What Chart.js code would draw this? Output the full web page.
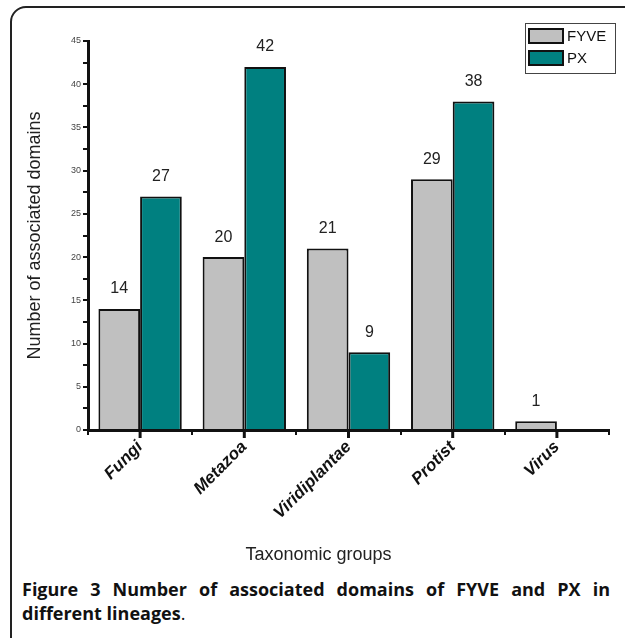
<!DOCTYPE html>
<html>
<head>
<meta charset="utf-8">
<script src="https://cdn.jsdelivr.net/npm/chart.js@4/dist/chart.umd.min.js"></script>
<style>
  html, body { margin: 0; padding: 0; background: #fff; }
  body { width: 625px; height: 638px; position: relative; overflow: hidden; }
  .frame {
    position: absolute; left: 10px; top: 6px; width: 640px; height: 660px;
    border: 2px solid #222; border-radius: 16px; box-sizing: border-box;
  }
  .wrap { position: absolute; left: 0; top: 0; width: 625px; height: 575px; }
  .caption {
    position: absolute; left: 22px; top: 577px; width: 588px;
    font-family: "Open Sans", "Noto Sans", sans-serif; font-size: 18px;
    line-height: 24px; color: #111; text-align: justify; text-align-last: left;
  }
  .caption b { font-weight: 700; }
</style>
</head>
<body>
<div class="frame"></div>
<div class="wrap"><canvas id="chart"></canvas></div>
<div class="caption"><b>Figure 3 Number of associated domains of FYVE and PX in different lineages</b>.</div>
<script>
// ---- data ----
const groups   = ["Fungi", "Metazoa", "Viridiplantae", "Protist", "Virus"];
const fyveVals = [14, 20, 21, 29, 1];
const pxVals   = [27, 42, 9, 38, 0];
const yMax = 45;
const xTitle = "Taxonomic groups";

const SANS = "'Liberation Sans', Arial, sans-serif";

// value labels above each bar
const valueLabels = {
  id: "valueLabels",
  afterDatasetsDraw(chart){
    const ctx = chart.ctx;
    ctx.save();
    ctx.font = "16px " + SANS;
    ctx.fillStyle = "#222";
    ctx.textAlign = "center";
    ctx.textBaseline = "bottom";
    chart.data.datasets.forEach((ds, di) => {
      chart.getDatasetMeta(di).data.forEach((el, i) => {
        const v = ds.data[i];
        if (!v) return;
        ctx.fillText(String(v), el.x, el.y - 12);
      });
    });
    ctx.restore();
  }
};

// long ticks at category centres + x title (sits left of centre in the original)
const centerTicks = {
  id: "centerTicks",
  afterDraw(chart){
    const x = chart.scales.x, ctx = chart.ctx;
    const yb = chart.chartArea.bottom;
    ctx.save();
    ctx.strokeStyle = "#111";
    ctx.lineWidth = 3;
    groups.forEach((g, i) => {
      const px = x.getPixelForValue(i);
      ctx.beginPath();
      ctx.moveTo(px, yb);
      ctx.lineTo(px, yb + 8);
      ctx.stroke();
    });
    ctx.fillStyle = "#222";
    ctx.font = "18px " + SANS;
    ctx.textAlign = "center";
    ctx.textBaseline = "middle";
    ctx.fillText(xTitle, (x.left + x.right) / 2 - 30, 555);
    ctx.restore();
  }
};

// boxed legend at top right
const boxLegend = {
  id: "boxLegend",
  afterDraw(chart){
    const ctx = chart.ctx;
    ctx.save();
    ctx.strokeStyle = "#444";
    ctx.lineWidth = 1;
    ctx.strokeRect(525.5, 23.5, 90, 50);
    chart.data.datasets.forEach((ds, i) => {
      const y = 29 + i * 22;
      ctx.fillStyle = ds.backgroundColor;
      ctx.fillRect(529, y, 34, 14);
      ctx.strokeStyle = "#111";
      ctx.lineWidth = 2;
      ctx.strokeRect(529, y, 34, 14);
      ctx.fillStyle = "#111";
      ctx.font = "15px " + SANS;
      ctx.textAlign = "left";
      ctx.textBaseline = "middle";
      ctx.fillText(ds.label, 567, y + 8);
    });
    ctx.restore();
  }
};

new Chart(document.getElementById("chart"), {
  type: "bar",
  data: {
    labels: groups,
    datasets: [
      { label: "FYVE", data: fyveVals, backgroundColor: "#c0c0c0", borderColor: "#111", borderWidth: 2 },
      { label: "PX",   data: pxVals,   backgroundColor: "#008080", borderColor: "#111", borderWidth: 2 }
    ]
  },
  options: {
    responsive: true,
    maintainAspectRatio: false,
    animation: false,
    datasets: { bar: { categoryPercentage: 0.8, barPercentage: 1.0 } },
    layout: { padding: { left: 0, right: 16, top: 41, bottom: 0 } },
    plugins: { legend: { display: false }, tooltip: { enabled: false } },
    scales: {
      x: {
        grid: { offset: true, drawOnChartArea: false, drawTicks: true, tickLength: 5, color: "#111", lineWidth: 2 },
        border: { display: true, color: "#111", width: 3 },
        ticks: {
          color: "#111",
          font: { family: SANS, size: 17, weight: "bold", style: "italic" },
          minRotation: 45, maxRotation: 45, padding: 2
        },
        title: { display: false },
        afterFit(scale){ scale.height = 145; }
      },
      y: {
        min: 0, max: yMax,
        grid: { drawOnChartArea: false, drawTicks: true, tickLength: 5, color: "#111", lineWidth: 2 },
        border: { display: true, color: "#111", width: 3 },
        ticks: {
          stepSize: 2.5,
          color: "#444",
          font: { family: SANS, size: 9 },
          padding: 2,
          callback: (v) => (v % 5 === 0 ? v : "")
        },
        title: {
          display: true, text: "Number of associated domains", color: "#222",
          font: { family: SANS, size: 18 }, padding: { top: 24, bottom: 0 }
        },
        afterFit(scale){ scale.width = 88; }
      }
    }
  },
  plugins: [valueLabels, centerTicks, boxLegend]
});
</script>
</body>
</html>
